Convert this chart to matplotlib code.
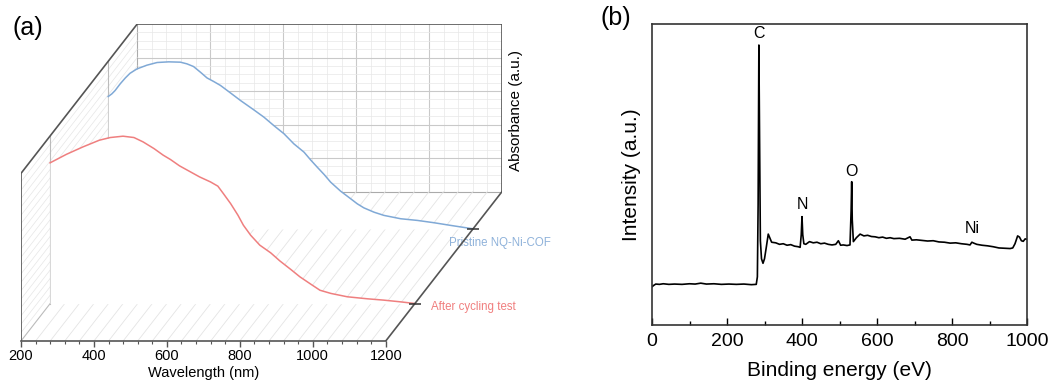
import numpy as np
import matplotlib
matplotlib.use('Agg')
import matplotlib.pyplot as plt
from matplotlib.ticker import MultipleLocator, FixedLocator

plt.rcParams['font.family'] = ['Liberation Sans', 'DejaVu Sans']

# (a) UV-vis, normalised absorbance
wl_after = [200, 245, 290, 335, 365, 400, 430, 455, 485, 510, 530, 555, 585, 610, 640, 660, 675,
            695, 715, 730, 750, 775, 805, 830, 860, 885, 915, 940, 970, 1015, 1070, 1115, 1160, 1200]
abs_after = [0.840, 0.891, 0.935, 0.975, 0.991, 0.999, 0.991, 0.965, 0.925, 0.886, 0.860, 0.822,
             0.786, 0.756, 0.726, 0.701, 0.657, 0.597, 0.528, 0.468, 0.408, 0.349, 0.303, 0.255,
             0.204, 0.160, 0.116, 0.080, 0.061, 0.041, 0.029, 0.021, 0.011, 0.001]
wl_pristine = [200, 210, 219, 233, 247, 260, 279, 306, 334, 366, 398, 416, 434, 453, 471, 489, 508,
               535, 563, 599, 627, 654, 682, 700, 709, 737, 755, 773, 792, 810, 837, 865, 883, 901,
               929, 956, 1002, 1048, 1094, 1140, 1200]
abs_pristine = [0.790, 0.806, 0.826, 0.866, 0.901, 0.929, 0.955, 0.977, 0.993, 0.997, 0.995, 0.985,
                0.969, 0.935, 0.901, 0.880, 0.856, 0.812, 0.766, 0.711, 0.667, 0.617, 0.568, 0.528,
                0.508, 0.458, 0.412, 0.369, 0.325, 0.279, 0.226, 0.180, 0.150, 0.126, 0.100, 0.081,
                0.061, 0.051, 0.037, 0.021, 0.001]
depth_after = 0.25
depth_pristine = 0.75

# (b) XPS survey
be = [0, 5, 10, 20, 30, 45, 60, 80, 100, 115, 130, 145, 165, 185, 205, 225, 245, 265, 278, 281,
      283, 285, 287, 289, 292, 296, 300, 305, 310, 314, 319, 330, 340, 350, 360, 370, 380, 390,
      395, 398, 400, 402, 405, 410, 420, 430, 440, 450, 460, 470, 480, 490, 497, 503, 510, 520,
      528, 531, 532.5, 534, 537, 545, 555, 565, 575, 585, 595, 605, 615, 625, 635, 645, 660, 675,
      688, 693, 705, 720, 735, 750, 765, 780, 795, 810, 825, 840, 848, 853, 858, 866, 880, 895,
      910, 925, 940, 955, 962, 968, 975, 980, 985, 990, 995, 1000]
intensity = [12.7, 13.2, 13.6, 13.5, 13.7, 13.5, 13.6, 13.5, 13.7, 13.6, 13.9, 13.6, 13.7, 13.5,
             13.6, 13.5, 13.6, 13.4, 13.5, 16, 40, 93, 60, 28, 22, 20.5, 22, 26, 30.2, 29, 27.5,
             27.3, 26.8, 27, 26.5, 26.7, 26.2, 26, 25.8, 30, 36, 30, 27, 26.8, 27.7, 27.3, 27.5,
             27, 27.2, 26.8, 26.6, 26.8, 28, 26.5, 26.6, 26.4, 26.6, 38, 47.6, 35, 27.7, 29, 30.2,
             29.6, 29.8, 29.4, 29.3, 29, 29.2, 28.8, 29, 28.7, 28.8, 28.5, 29.3, 28.2, 28.3, 28.1,
             27.9, 28, 27.6, 27.5, 27.2, 27.3, 27, 26.8, 26.6, 27.5, 27.2, 26.8, 26.5, 26.3, 26,
             25.6, 25.5, 25.4, 25.6, 27, 29.6, 29.2, 28, 27.8, 28.6, 28.5]
peak_names = ['C', 'N', 'O', 'Ni']
peak_pos = [285, 400, 532, 855]
peak_lab_y = [97, 40, 51, 32]

# oblique projection of (wavelength, depth, z) onto the flat axes
DX = 318.7
DZ = 0.891
def proj(w, d, z):
    w = np.asarray(w, float)
    d = np.asarray(d, float)
    z = np.asarray(z, float)
    return w + DX * d, z + DZ * d

fig = plt.figure(figsize=(10.54, 3.9), dpi=100)

ax = fig.add_axes([21 / 1054, 49 / 390, 481 / 1054, 317 / 390])
ax.set_xlim(200, 1200 + DX)
ax.set_ylim(0, 1 + DZ)
for s in ['top', 'right', 'left']:
    ax.spines[s].set_visible(False)
ax.spines['bottom'].set_bounds(200, 1200)
ax.spines['bottom'].set_color('#555555')
ax.spines['bottom'].set_linewidth(1.2)
ax.set_yticks([])
ax.set_xticks(range(200, 1201, 200))
ax.xaxis.set_minor_locator(FixedLocator(np.arange(240, 1200, 40)))
ax.tick_params(axis='x', which='major', direction='out', length=4, width=1, color='#555555',
               labelsize=10.5, pad=2)
ax.tick_params(axis='x', which='minor', direction='out', length=2.5, width=0.8, color='#555555')
ax.set_xlabel('Wavelength (nm)', fontsize=10.5)
ax.xaxis.set_label_coords((700 - 200) / (1000 + DX), -0.078)

minor_c, major_c = '#e8e8e8', '#c9c9c9'
# back wall
for w in np.arange(240, 1200, 40):
    x, y = proj([w, w], 1, [0, 1])
    ax.plot(x, y, color=major_c if w % 200 == 0 else minor_c, lw=0.8 if w % 200 == 0 else 0.5, zorder=1)
for z in np.arange(0.05, 1.0, 0.05):
    x, y = proj([200, 1200], 1, [z, z])
    major = abs(z / 0.2 - round(z / 0.2)) < 1e-6
    ax.plot(x, y, color=major_c if major else minor_c, lw=0.8 if major else 0.5, zorder=1)
x, y = proj([200, 200, 1200], 1, [1, 0, 0])
ax.plot(x, y, color='#aaaaaa', lw=0.8, zorder=1)
# floor
for w in np.arange(240, 1200, 40):
    x, y = proj([w, w], [0, 1], [0, 0])
    ax.plot(x, y, color='#e4e4e4', lw=0.6, zorder=1)
# left wall
for z in np.arange(0.05, 1.0, 0.05):
    x, y = proj([200, 200], [0, 1], [z, z])
    ax.plot(x, y, color='#e6e6e6', lw=0.5, zorder=1)
for d in [depth_after, depth_pristine]:
    x, y = proj([200, 200], d, [0, 1])
    ax.plot(x, y, color='#bbbbbb', lw=0.8, zorder=1)
x, y = proj([200, 200], [0, 1], [0, 0])
ax.plot(x, y, color='#bbbbbb', lw=0.8, zorder=1)

# curves, filled white underneath so they hide what is behind
series = [(wl_pristine, abs_pristine, depth_pristine, '#80a9d6'),
          (wl_after, abs_after, depth_after, '#ef7f7f')]
zo = 2
for w, a, d, c in series:
    x, y = proj(w, d, a)
    ax.fill_between(x, DZ * d, y, color='white', lw=0, zorder=zo)
    ax.plot(x, y, color=c, lw=1.1, zorder=zo + 1)
    zo += 2

# box edges
edge = dict(color='#555555', lw=1.2, zorder=10, solid_capstyle='projecting')
x, y = proj([200, 200, 200, 1200, 1200], [0, 0, 1, 1, 1], [0, 1, 1, 1, 0])
ax.plot(x, y, **edge)
x, y = proj([1200, 1200], [0, 1], [0, 0])
ax.plot(x, y, **edge)
x, y = proj([1200, 1200], [depth_after, depth_pristine], [0, 0])
ax.plot(x, y, ls='none', marker='_', ms=8, mew=1.1, color='#333333', zorder=11)

x, y = proj(1200, depth_pristine, 0)
ax.annotate('Pristine NQ-Ni-COF', (x, y), xytext=(-24, -14), textcoords='offset pixels',
            color='#8fb2da', fontsize=8.3, ha='left', va='center', annotation_clip=False)
x, y = proj(1200, depth_after, 0)
ax.annotate('After cycling test', (x, y), xytext=(16, -3), textcoords='offset pixels',
            color='#f07e7e', fontsize=8.3, ha='left', va='center', annotation_clip=False)
ax.text(200 + (516 - 21) / 0.3648, (341 - 111) / 167.6, 'Absorbance (a.u.)', rotation=90,
        ha='center', va='center', fontsize=11, clip_on=False)
fig.text(13 / 1054, 1 - 28 / 390, '(a)', fontsize=18, ha='left', va='center')

# (b)
bx = fig.add_axes([652 / 1054, 65 / 390, 375 / 1054, 301 / 390])
bx.plot(be, intensity, color='black', lw=1.2)
bx.set_xlim(0, 1000)
bx.set_ylim(0, 100)
bx.set_yticks([])
bx.set_xticks(range(0, 1001, 200))
bx.xaxis.set_minor_locator(MultipleLocator(100))
bx.tick_params(axis='x', which='major', direction='in', length=5, width=1, labelsize=14, pad=6)
bx.tick_params(axis='x', which='minor', direction='in', length=3, width=1)
for s in bx.spines.values():
    s.set_color('#333333')
    s.set_linewidth(1.2)
bx.set_xlabel('Binding energy (eV)', fontsize=15, labelpad=8)
bx.set_ylabel('Intensity (a.u.)', fontsize=15, labelpad=8)
for n, p, yy in zip(peak_names, peak_pos, peak_lab_y):
    bx.text(p, yy, n, ha='center', va='center', fontsize=11.5)
fig.text(600 / 1054, 1 - 18 / 390, '(b)', fontsize=18, ha='left', va='center')

fig.savefig('out.png', dpi=100)
